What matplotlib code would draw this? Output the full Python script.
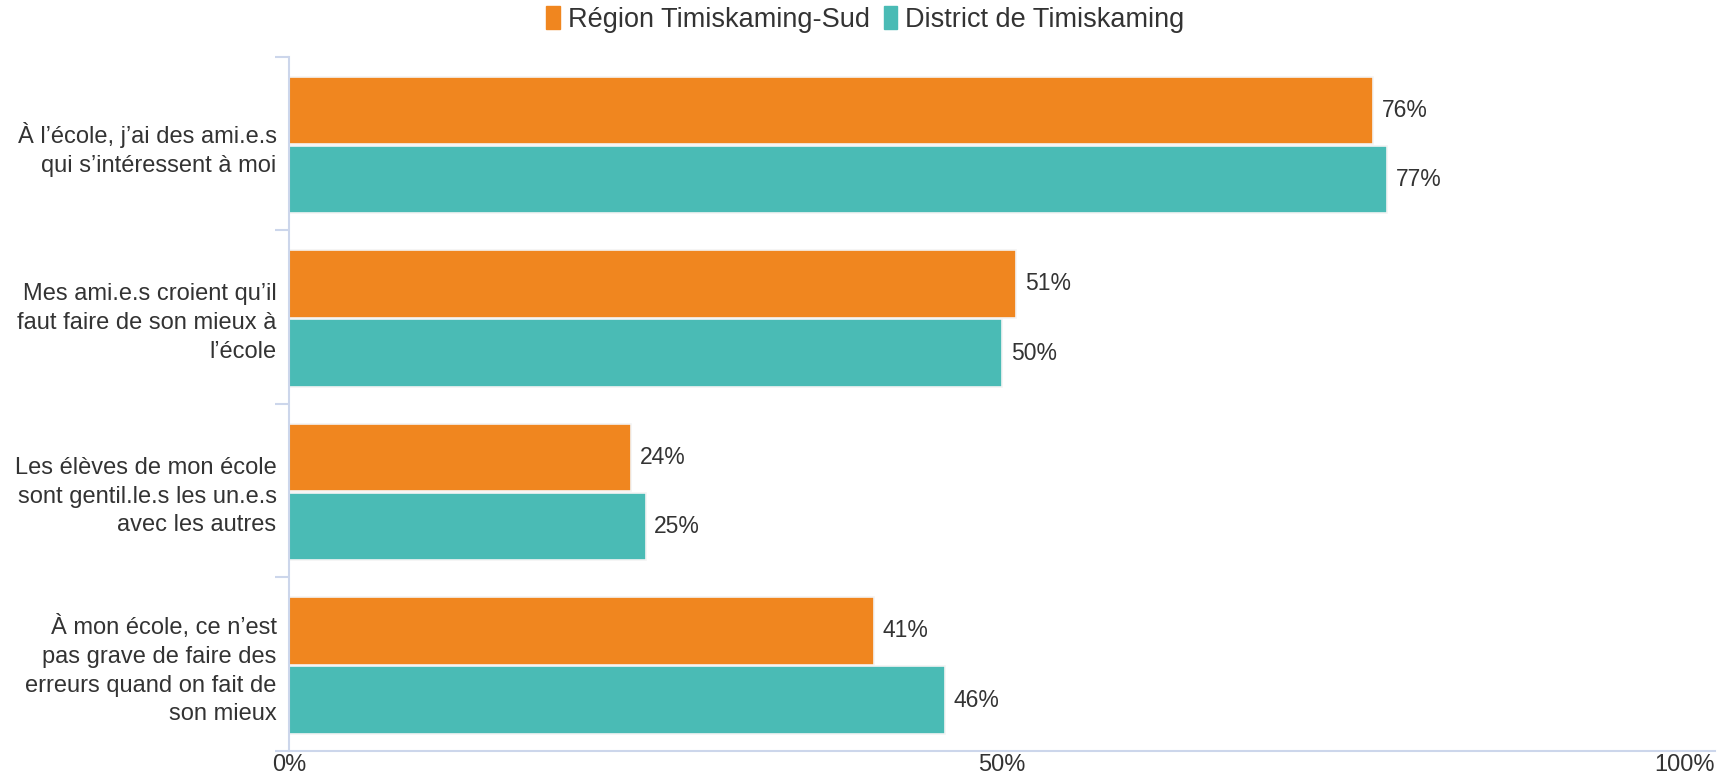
import matplotlib
matplotlib.use("Agg")
import matplotlib.pyplot as plt
import numpy as np
from matplotlib.patches import Patch

plt.rcParams['font.family'] = ['Liberation Sans', 'DejaVu Sans']

categories = [
    "À l’école, j’ai des ami.e.s\nqui s’intéressent à moi",
    "Mes ami.e.s croient qu’il\nfaut faire de son mieux à\nl’école",
    "Les élèves de mon école\nsont gentil.le.s les un.e.s\navec les autres",
    "À mon école, ce n’est\npas grave de faire des\nerreurs quand on fait de\nson mieux",
]
series_names = ["Région Timiskaming-Sud", "District de Timiskaming"]
region_sud = [76, 51, 24, 41]
district = [77, 50, 25, 46]
x_ticks = [0, 50, 100]
x_tick_labels = ["0%", "50%", "100%"]

colors = ["#F0861F", "#4ABBB5"]
text_color = "#333333"
axis_color = "#CCD6EB"

fig = plt.figure(figsize=(17.31, 7.75), dpi=100)
ax = fig.add_axes([0.1670, 0.031, 0.8238, 0.8955])

y = np.arange(len(categories))
h = 0.389
off = h / 2 + 0.005
for vals, col, sign in [(region_sud, colors[0], -1), (district, colors[1], 1)]:
    bars = ax.barh(y + sign * off + 0.008, vals, height=h, color=col,
                   edgecolor="#F4F4F4", linewidth=1.2)
    for b, v in zip(bars, vals):
        ax.text(b.get_width() + 0.6, b.get_y() + b.get_height() / 2, f"{v}%",
                va="center", ha="left", fontsize=16.5, color=text_color)

ax.set_xlim(0, 100)
ax.set_ylim(3.5, -0.5)

ax.set_yticks(y)
ax.set_yticklabels(categories, fontsize=17, color=text_color, linespacing=1.4,
                   multialignment="right")
ax.tick_params(axis="y", which="major", length=0, pad=9)
ax.set_yticks(np.arange(-0.5, 4.0, 1.0), minor=True)
ax.tick_params(axis="y", which="minor", length=10, width=1.5, color=axis_color)

ax.set_xticks(x_ticks)
ax.set_xticklabels(x_tick_labels, fontsize=17, color=text_color)
ax.tick_params(axis="x", length=0, pad=2)
lbls = ax.get_xticklabels()
lbls[-1].set_ha("right")

for s in ["top", "right"]:
    ax.spines[s].set_visible(False)
ax.spines["left"].set_color(axis_color)
ax.spines["left"].set_linewidth(1.5)
ax.spines["bottom"].set_color(axis_color)
ax.spines["bottom"].set_linewidth(1.5)

handles = [Patch(color=c, label=n) for c, n in zip(colors, series_names)]
fig.legend(handles=handles, loc="center", bbox_to_anchor=(0.5, 0.975), ncol=2,
           frameon=False, fontsize=19.5, handlelength=0.5, handleheight=0.9,
           handletextpad=0.3, columnspacing=0.5, labelcolor=text_color)

fig.savefig("out.png", dpi=100)
